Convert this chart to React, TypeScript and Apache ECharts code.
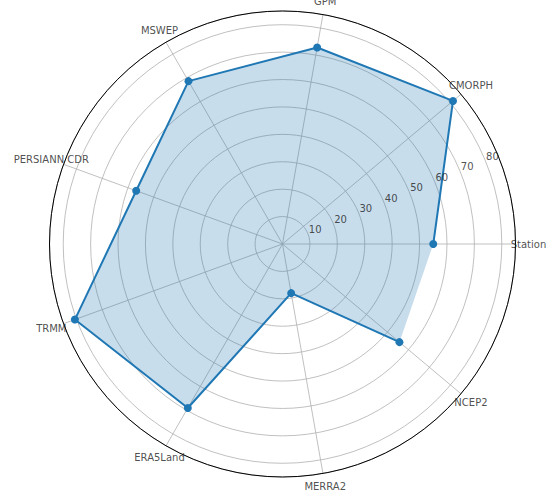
import React, { useEffect, useRef } from "react";
import * as echarts from "echarts";

const categories = ["Station", "CMORPH", "GPM", "MSWEP", "PERSIANN CDR", "TRMM", "ERA5Land", "MERRA2", "NCEP2"];
const values = [55.0, 81.2, 72.8, 68.6, 56.8, 80.6, 69.1, 18.2, 55.7];
const radialTicks = [10, 20, 30, 40, 50, 60, 70, 80];
const radialMax = 85;
const radialLabelAngle = 22.5;

const BLUE = "#1f77b4";
const GRID = "#b0b0b0";
const FONT = "DejaVu Sans";
const TEXT = "#222222";

export default function App() {
  const ref = useRef<HTMLDivElement>(null);
  useEffect(() => {
    if (!ref.current) return;
    const chart = echarts.init(ref.current, undefined, { renderer: "svg" });
    const step = 360 / categories.length;
    const center = [282.5, 244];
    const radius = 233;
    const labelR = (radialMax * 246) / radius;
    const lineData = categories.map((_, i) => [values[i], i * step]);
    const fillData = [...lineData, [values[0], 360]];
    const labelData = categories.map((_, i) => [labelR, i * step]);
    const tickLabelData = radialTicks.map((v) => [v, radialLabelAngle]);
    chart.setOption({
      animation: false,
      backgroundColor: "#ffffff",
      polar: { center, radius },
      angleAxis: {
        type: "value",
        min: 0,
        max: 360,
        interval: step,
        startAngle: 0,
        clockwise: false,
        axisLine: { show: true, lineStyle: { color: "#000000", width: 1 } },
        axisTick: { show: false },
        axisLabel: { show: false },
        splitLine: { show: true, lineStyle: { color: GRID, width: 0.8 } },
      },
      radiusAxis: {
        type: "value",
        min: 0,
        max: radialMax,
        interval: 10,
        axisLine: { show: false },
        axisTick: { show: false },
        axisLabel: { show: false },
        splitLine: { show: true, lineStyle: { color: GRID, width: 0.8 } },
      },
      series: [
        {
          type: "line",
          coordinateSystem: "polar",
          data: fillData,
          symbol: "none",
          lineStyle: { width: 0, opacity: 0 },
          areaStyle: { color: BLUE, opacity: 0.25 },
          silent: true,
          z: 1,
        },
        {
          type: "line",
          coordinateSystem: "polar",
          data: lineData,
          symbol: "circle",
          symbolSize: 8,
          itemStyle: { color: BLUE },
          lineStyle: { color: BLUE, width: 2 },
          z: 2,
        },
        {
          type: "scatter",
          coordinateSystem: "polar",
          data: tickLabelData,
          symbolSize: 0,
          clip: false,
          silent: true,
          label: {
            show: true,
            position: [1, 1],
            align: "left",
            verticalAlign: "bottom",
            fontFamily: FONT,
            fontSize: 10,
            color: TEXT,
            formatter: (p: any) => String(radialTicks[p.dataIndex]),
          },
          z: 3,
        },
        {
          type: "scatter",
          coordinateSystem: "polar",
          data: labelData,
          symbolSize: 0,
          clip: false,
          silent: true,
          label: {
            show: true,
            position: "inside",
            align: "center",
            verticalAlign: "middle",
            fontFamily: FONT,
            fontSize: 10,
            color: TEXT,
            formatter: (p: any) => categories[p.dataIndex],
          },
          z: 3,
        },
      ],
    });
    return () => chart.dispose();
  }, []);
  return <div ref={ref} style={{ position: "absolute", left: 0, top: 0, width: 555, height: 495 }} />;
}
